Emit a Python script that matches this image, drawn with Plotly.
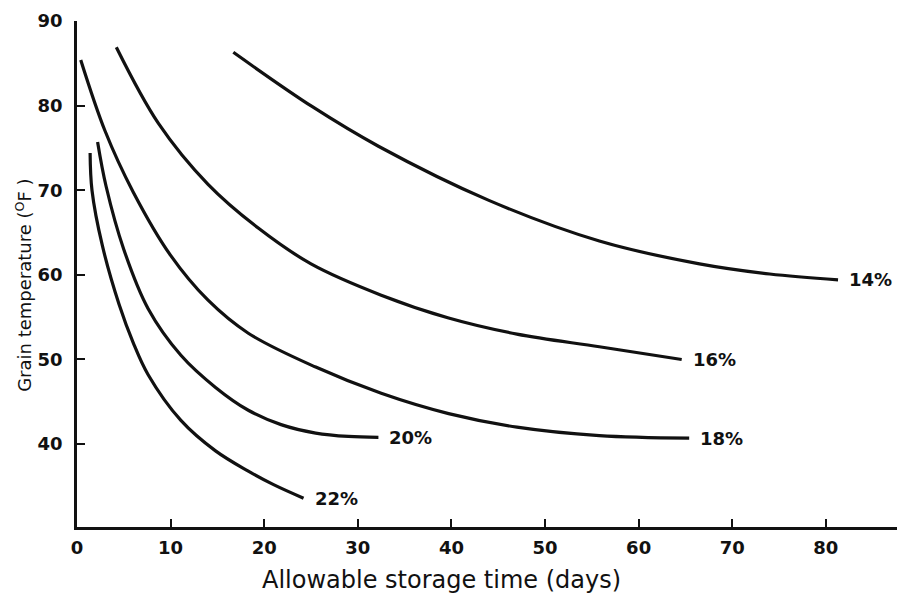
import plotly.graph_objects as go

# Curve data (days, grain temperature °F)
days_14 = [16.7, 25.1, 32.2, 44.0, 55.8, 66.5, 74.0, 81.3]
temp_14 = [86.3, 79.9, 75.2, 68.8, 64.0, 61.3, 60.1, 59.4]

days_16 = [4.2, 8.7, 14.0, 19.4, 25.0, 32.5, 39.7, 47.0, 55.8, 64.6]
temp_16 = [86.9, 77.9, 70.7, 65.5, 61.3, 57.6, 54.9, 53.0, 51.5, 50.0]

days_18 = [0.4, 3.0, 6.0, 10.0, 14.0, 18.3, 25.5, 32.5, 39.7, 47.0, 55.8, 65.4]
temp_18 = [85.4, 77.0, 69.8, 62.3, 57.0, 53.1, 49.1, 46.0, 43.6, 42.0, 41.0, 40.7]

days_20 = [2.2, 3.1, 5.0, 7.6, 11.1, 14.8, 18.3, 21.8, 25.5, 29.0, 32.2]
temp_20 = [75.7, 70.5, 63.0, 56.0, 50.5, 46.7, 44.0, 42.3, 41.3, 40.9, 40.8]

days_22 = [1.4, 1.6, 2.7, 4.5, 6.0, 7.6, 11.1, 14.8, 18.3, 21.0, 24.2]
temp_22 = [74.4, 70.0, 63.5, 56.5, 52.0, 48.2, 42.8, 39.2, 36.8, 35.2, 33.6]

series_names = ["14%", "16%", "18%", "20%", "22%"]
series_days = [days_14, days_16, days_18, days_20, days_22]
series_temps = [temp_14, temp_16, temp_18, temp_20, temp_22]

x_ticks = [0, 10, 20, 30, 40, 50, 60, 70, 80]
y_ticks = [40, 50, 60, 70, 80, 90]

x_title = "Allowable storage time (days)"
y_title = "Grain temperature (<sup>O</sup>F )"

INK = "#111111"

fig = go.Figure()
for name, xs, ys in zip(series_names, series_days, series_temps):
    fig.add_trace(go.Scatter(
        x=xs, y=ys, mode="lines", name=name,
        line=dict(color=INK, width=3.2, shape="spline", smoothing=1.0),
        showlegend=False, hoverinfo="skip",
    ))
    fig.add_annotation(
        x=xs[-1], y=ys[-1], xref="x", yref="y", text="<b>%s</b>" % name,
        showarrow=False, xanchor="left", yanchor="middle", xshift=9,
        font=dict(family="DejaVu Sans", size=18, color=INK),
    )

axis_common = dict(
    showgrid=False, zeroline=False, showline=True, linecolor=INK,
    linewidth=2.5, ticks="inside", ticklen=8, tickwidth=2, tickcolor=INK,
    tickfont=dict(family="DejaVu Sans", size=18, color=INK),
)

fig.update_xaxes(
    range=[0, 87.6], tickvals=x_ticks,
    ticktext=["<b>%d</b>" % v for v in x_ticks],
    ticklabelstandoff=3, **axis_common,
)
fig.update_yaxes(
    range=[30.2, 90], tickvals=y_ticks,
    ticktext=["<b>%d</b>" % v for v in y_ticks],
    ticklabelstandoff=8, **axis_common,
)

fig.add_annotation(
    x=38.9, y=-0.105, xref="x", yref="paper", text=x_title, showarrow=False,
    xanchor="center", yanchor="middle",
    font=dict(family="DejaVu Sans", size=24, color=INK),
)
fig.add_annotation(
    x=-0.065, y=0.478, xref="paper", yref="paper", text=y_title, showarrow=False,
    textangle=-90, xanchor="center", yanchor="middle",
    font=dict(family="DejaVu Sans", size=18, color=INK),
)

fig.update_layout(
    width=901, height=598,
    margin=dict(l=77, r=4, t=21, b=71),
    paper_bgcolor="white", plot_bgcolor="white",
)

fig.write_html(
    "out.html",
    config={"displayModeBar": False},
    post_script="document.body.style.margin='0';document.body.style.overflow='hidden';",
)
